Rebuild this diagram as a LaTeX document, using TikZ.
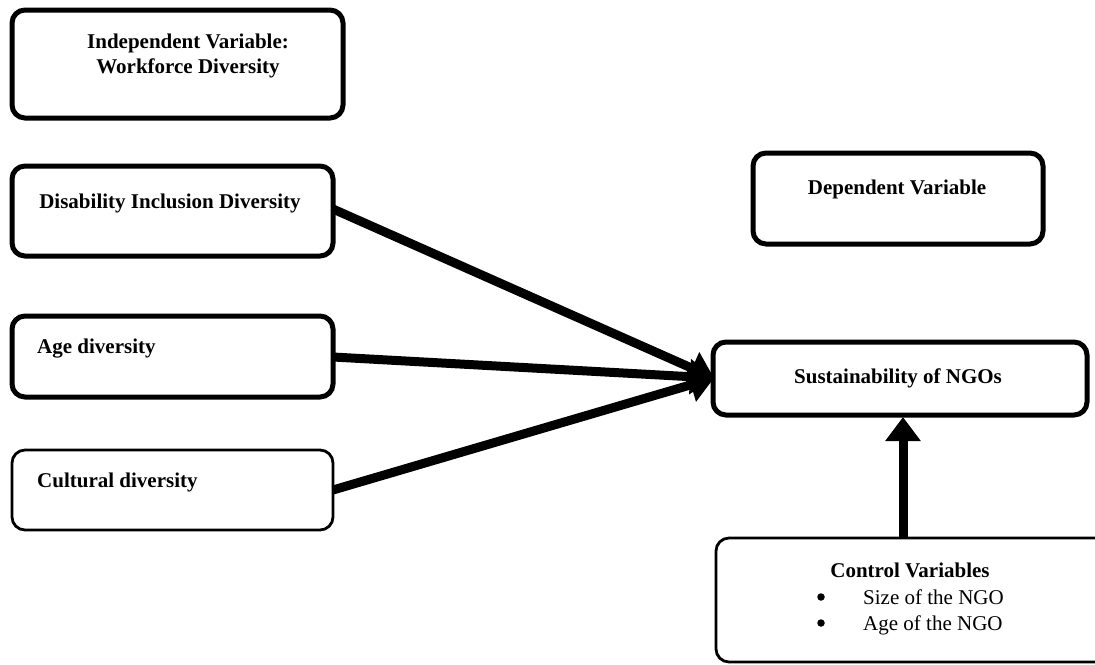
\documentclass[tikz,border=0pt]{standalone}
\usepackage{fontspec}
\setmainfont{Liberation Serif}
\usetikzlibrary{arrows.meta}
\begin{document}
\begin{tikzpicture}[x=1pt,y=-1pt,
  thickbox/.style={draw=black,line width=5pt,rounded corners=13pt},
  thinbox/.style={draw=black,line width=2.8pt,rounded corners=13pt},
  lbl/.style={font=\fontsize{21}{25}\selectfont\bfseries,inner sep=0pt,anchor=base},
  lblw/.style={lbl,anchor=base west},
  item/.style={font=\fontsize{21}{25}\selectfont,inner sep=0pt,anchor=base west},
  dot/.style={circle,fill=black,inner sep=0pt,minimum size=7.5pt},
  bigarrow/.style={line width=9pt,-{Triangle[length=24pt,width=34pt]}},
]
\clip (0,0) rectangle (1095,664);
\fill[white] (0,0) rectangle (1095,664);
% boxes
\draw[thickbox] (12,10) rectangle (343,118);
\draw[thickbox] (12,166) rectangle (333,256);
\draw[thickbox] (12,316) rectangle (333,397);
\draw[thinbox] (12,450) rectangle (333,530);
\draw[thickbox] (753,153) rectangle (1043,244);
\draw[thickbox] (713,342) rectangle (1087,415);
\draw[thinbox] (716,538) rectangle (1115,662);
% named anchors
\coordinate (dis) at (333,209);
\coordinate (age) at (333,357);
\coordinate (cul) at (333,490);
\coordinate (sus) at (714,378);
\coordinate (ctl) at (903,538);
\coordinate (susb) at (903,417);
% texts
\node[lbl] (iv1) at (188,48) {Independent Variable:};
\node[lbl] (iv2) at (188,73) {Workforce Diversity};
\node[lbl] (t1) at (170,208) {Disability Inclusion Diversity};
\node[lblw] (t2) at (37,353) {Age diversity};
\node[lblw] (t3) at (37,487) {Cultural diversity};
\node[lbl] (t4) at (897,194) {Dependent Variable};
\node[lbl] (t5) at (898,383) {Sustainability of NGOs};
\node[lbl] (t6) at (910,577) {Control Variables};
\node[dot] (b1) at (821,597) {};
\node[dot] (b2) at (821,623) {};
\node[item] (i1) at (863,604) {Size of the NGO};
\node[item] (i2) at (863,630) {Age of the NGO};
% arrows
\draw[bigarrow] (dis) -- (sus);
\draw[bigarrow] (age) -- (sus);
\draw[bigarrow] (cul) -- (sus);
\draw[bigarrow] (ctl) -- (susb);
\end{tikzpicture}
\end{document}
